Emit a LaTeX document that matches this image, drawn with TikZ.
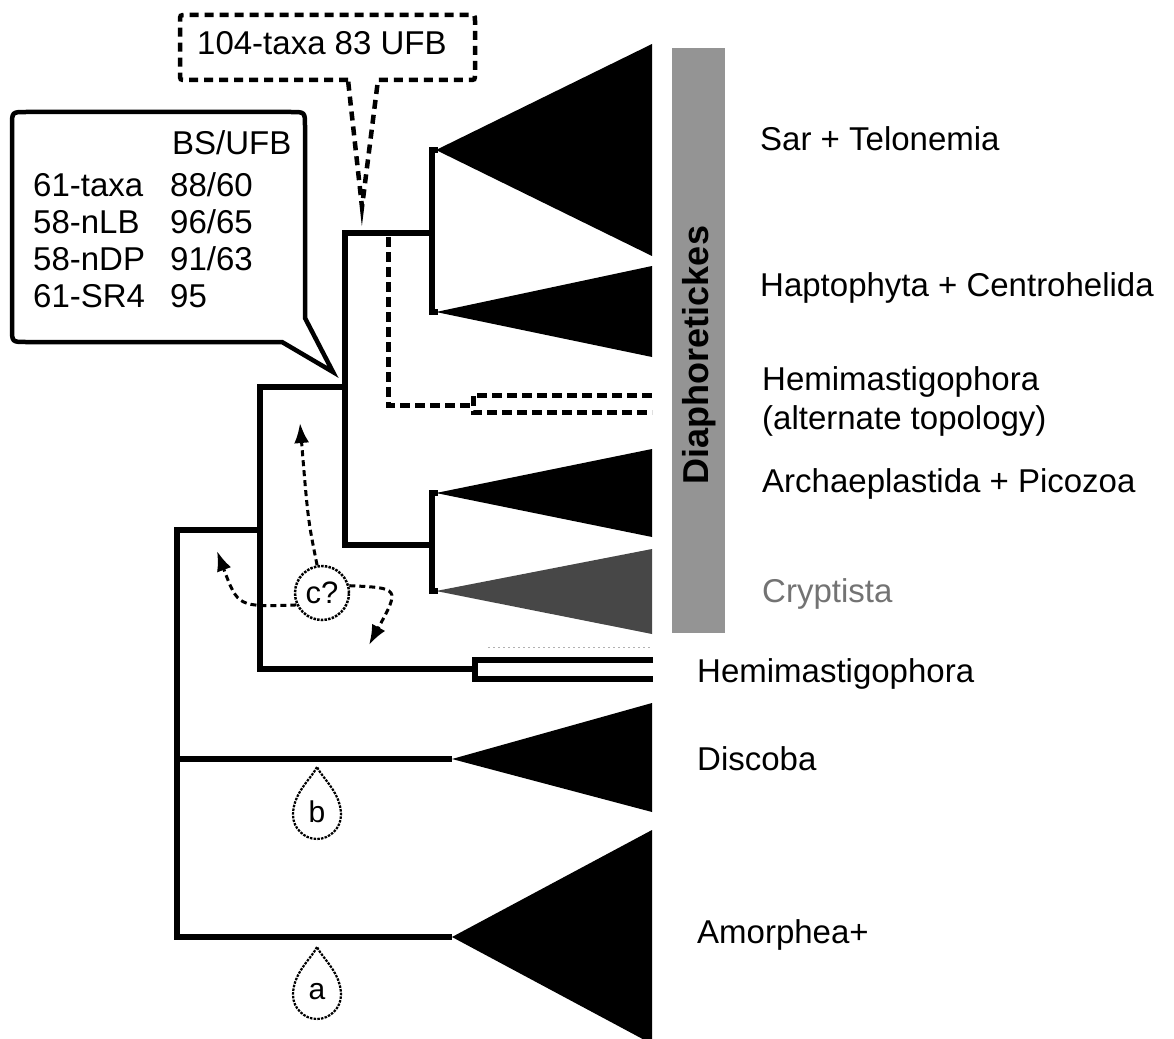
\documentclass[tikz,border=0pt]{standalone}
\usepackage{fontspec}
\setmainfont{Liberation Sans}
\usetikzlibrary{arrows.meta}
\begin{document}
\begin{tikzpicture}[x=1pt,y=-1pt,
  lbl/.style={anchor=base west, inner sep=0pt, font=\fontsize{33}{40}\selectfont},
  branch/.style={line width=6.5pt, line join=miter},
  clade/.style={fill=black, draw=none},
  altdash/.style={line width=5pt, dash pattern=on 10pt off 5pt},
  boxdash/.style={line width=4.5pt, dash pattern=on 9pt off 6pt},
  callout/.style={line width=4.5pt, line join=miter},
  qarrow/.style={line width=3pt, dash pattern=on 6pt off 4pt, -{Latex[length=20pt,width=15pt]}},
  dropline/.style={line width=2.2pt, dash pattern=on 2.5pt off 1.2pt},
  dropletter/.style={inner sep=0pt, font=\fontsize{30}{32}\selectfont}
]
\useasboundingbox (0,0) rectangle (1174,1038);

% ---------- Diaphoretickes bar ----------
\fill[black!42] (672,48) rectangle (725,633);
\node[rotate=90, inner sep=0pt, font=\bfseries\fontsize{36}{40}\selectfont] (diaph) at (699,355) {Diaphoretickes};

% ---------- clades (triangles) ----------
\fill[clade] (436,150) -- (652,44) -- (652,256) -- cycle;   % Sar + Telonemia
\fill[clade] (436,312) -- (652,266) -- (652,357) -- cycle;  % Haptophyta
\fill[clade] (436,493) -- (652,449) -- (652,537) -- cycle;  % Archaeplastida
\fill[black!72] (436,591) -- (652,549) -- (652,634) -- cycle; % Cryptista
\fill[clade] (452,759) -- (652,703) -- (652,812) -- cycle;  % Discoba
\fill[clade] (452,937) -- (652,830) -- (652,1044) -- cycle; % Amorphea+

% ---------- tree coordinates ----------
\coordinate (root) at (177,530);
\coordinate (rootbot) at (177,937);
\coordinate (disc) at (452,759);
\coordinate (amor) at (452,937);
\coordinate (n2) at (260,530);
\coordinate (n3) at (345,387);
\coordinate (hemi) at (473,669);

% ---------- tree branches ----------
\draw[branch] (n2) -- (root) -- (rootbot) -- (amor);
\draw[branch] (177,759) -- (disc);
\draw[branch] (n3) -- (260,387) -- (260,669) -- (hemi);
\draw[branch] (432,233) -- (345,233) -- (345,545) -- (432,545);
\draw[branch] (438,150) -- (432,150) -- (432,312) -- (438,312);
\draw[branch] (438,493) -- (432,493) -- (432,591) -- (438,591);

% Hemimastigophora open bar
\draw[line width=5.5pt, line join=miter, fill=white] (653,660) -- (475,660) -- (475,679) -- (653,679);
\draw[gray!60, line width=1pt, dash pattern=on 2pt off 3pt] (488,647) -- (652,647);

% ---------- alternate topology (dashed) ----------
\draw[altdash] (388,237) -- (388,405) -- (473,405);
\draw[altdash] (652,395) -- (473,395) -- (473,412) -- (652,412);

% ---------- top dashed box ----------
\draw[boxdash] (348,80) -- (186,80) .. controls (180,80) .. (180,74) -- (180,21)
  .. controls (180,15) .. (186,15) -- (469,15) .. controls (475,15) .. (475,21)
  -- (475,74) .. controls (475,80) .. (469,80) -- (378,80) -- (362,207) -- cycle;
\node[lbl] (ufb) at (197,55) {104-taxa 83 UFB};

% ---------- support callout ----------
\draw[callout] (282,342) -- (26,342) .. controls (12,342) .. (12,328) -- (12,126)
  .. controls (12,112) .. (26,112) -- (291,112) .. controls (305,112) .. (305,126)
  -- (305,318) -- (333,372) -- cycle;
\node[lbl] (hdr) at (172,154) {BS/UFB};
\node[lbl] (r1a) at (33,196) {61-taxa};
\node[lbl] (r1b) at (170,196) {88/60};
\node[lbl] (r2a) at (33,233) {58-nLB};
\node[lbl] (r2b) at (170,233) {96/65};
\node[lbl] (r3a) at (33,270) {58-nDP};
\node[lbl] (r3b) at (170,270) {91/63};
\node[lbl] (r4a) at (33,307) {61-SR4};
\node[lbl] (r4b) at (170,307) {95};

% ---------- c? with arrows ----------
\node[circle, draw, line width=2.5pt, dash pattern=on 2.5pt off 1.2pt, minimum size=54pt, inner sep=0pt,
      font=\fontsize{31}{32}\selectfont, fill=white] (c) at (322,593) {c?};
\coordinate (cup) at (300,423);
\coordinate (cleft) at (217,551);
\coordinate (cright) at (369,645);
\draw[qarrow] (c.100) .. controls (308,520) .. (cup);
\draw[qarrow] (c.205) .. controls (238,607) .. (cleft);
\draw[qarrow] (c.15) .. controls (400,588) .. (cright);

% ---------- droplets ----------
\node[dropletter] (b) at (317,812) {b};
\begin{scope}[shift={(317,815)}]
\draw[dropline] (0,-48) .. controls (-6,-36) and (-24,-22) .. (-24,0)
  .. controls (-24,13) and (-13,24) .. (0,24) .. controls (13,24) and (24,13) .. (24,0)
  .. controls (24,-22) and (6,-36) .. (0,-48) -- cycle;
\end{scope}
\node[dropletter] (a) at (317,992) {a};
\begin{scope}[shift={(317,995)}]
\draw[dropline] (0,-48) .. controls (-6,-36) and (-24,-22) .. (-24,0)
  .. controls (-24,13) and (-13,24) .. (0,24) .. controls (13,24) and (24,13) .. (24,0)
  .. controls (24,-22) and (6,-36) .. (0,-48) -- cycle;
\end{scope}

% ---------- labels ----------
\node[lbl] (sar) at (760,150) {Sar + Telonemia};
\node[lbl] (hap) at (760,296) {Haptophyta + Centrohelida};
\node[lbl] (hemalt) at (762,390) {Hemimastigophora};
\node[lbl] (hemalt2) at (762,429) {(alternate topology)};
\node[lbl] (arch) at (762,492) {Archaeplastida + Picozoa};
\node[lbl, text=black!55] (cryp) at (762,602) {Cryptista};
\node[lbl] (hemlbl) at (697,682) {Hemimastigophora};
\node[lbl] (disclbl) at (697,770) {Discoba};
\node[lbl] (amorlbl) at (697,943) {Amorphea+};
\end{tikzpicture}
\end{document}
